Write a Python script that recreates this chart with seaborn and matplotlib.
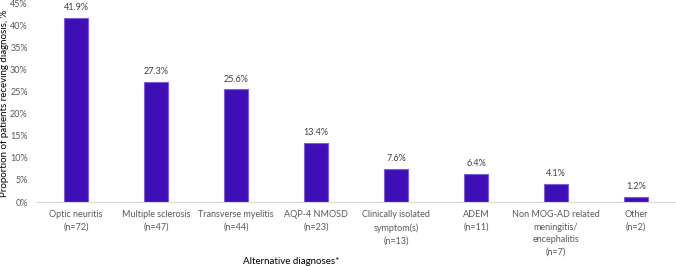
import matplotlib
matplotlib.use("Agg")
import matplotlib.pyplot as plt
import seaborn as sns
import pandas as pd

categories = ["Optic neuritis\n(n=72)", "Multiple sclerosis\n(n=47)", "Transverse myelitis\n(n=44)",
              "AQP-4 NMOSD\n(n=23)", "Clinically isolated\nsymptom(s)\n(n=13)", "ADEM\n(n=11)",
              "Non MOG-AD related\nmeningitis/\nencephalitis\n(n=7)", "Other\n(n=2)"]
values = [41.9, 27.3, 25.6, 13.4, 7.6, 6.4, 4.1, 1.2]
yticks = [0, 5, 10, 15, 20, 25, 30, 35, 40, 45]

df = pd.DataFrame({"diagnosis": categories, "pct": values})

sns.set_theme(style="white")
plt.rcParams['font.family'] = ['Lato', 'DejaVu Sans']

fig = plt.figure(figsize=(6.76, 2.66), dpi=100)
ax = fig.add_axes([0.0533, 0.2406, 0.9467, 0.7444])
sns.barplot(x="diagnosis", y="pct", data=df, color="#3f0fb5", saturation=1,
            width=0.31, edgecolor="#7a5ed6", linewidth=0.8, ax=ax)

# value labels above each bar
for i, v in enumerate(values):
    ax.text(i, v + 1.3, f"{v:.1f}%", ha="center", va="bottom", fontsize=6.5, color="#404040")

ax.set_ylim(0, 45)
ax.set_xlim(-0.5, len(categories) - 0.5)
ax.set_yticks(yticks)
ax.set_yticklabels([f"{t}%" for t in yticks])
ax.tick_params(axis="y", labelsize=6.5, colors="#595959", length=0, pad=6)
ax.tick_params(axis="x", labelsize=6.5, colors="#595959", length=0, pad=6)
for lbl in ax.get_xticklabels():
    lbl.set_linespacing(1.5)

for s in ["top", "right", "left"]:
    ax.spines[s].set_visible(False)
ax.spines["bottom"].set_color("#d9d9d9")
ax.spines["bottom"].set_linewidth(0.8)

ax.set_xlabel("Alternative diagnoses*", fontsize=7, color="black")
ax.xaxis.set_label_coords(0.3985, -0.28)
ax.set_ylabel("Proportion of patients receving diagnosis, %", fontsize=7, color="black")
ax.yaxis.set_label_coords(-0.043, 0.5)

fig.savefig("out.png", dpi=100)
